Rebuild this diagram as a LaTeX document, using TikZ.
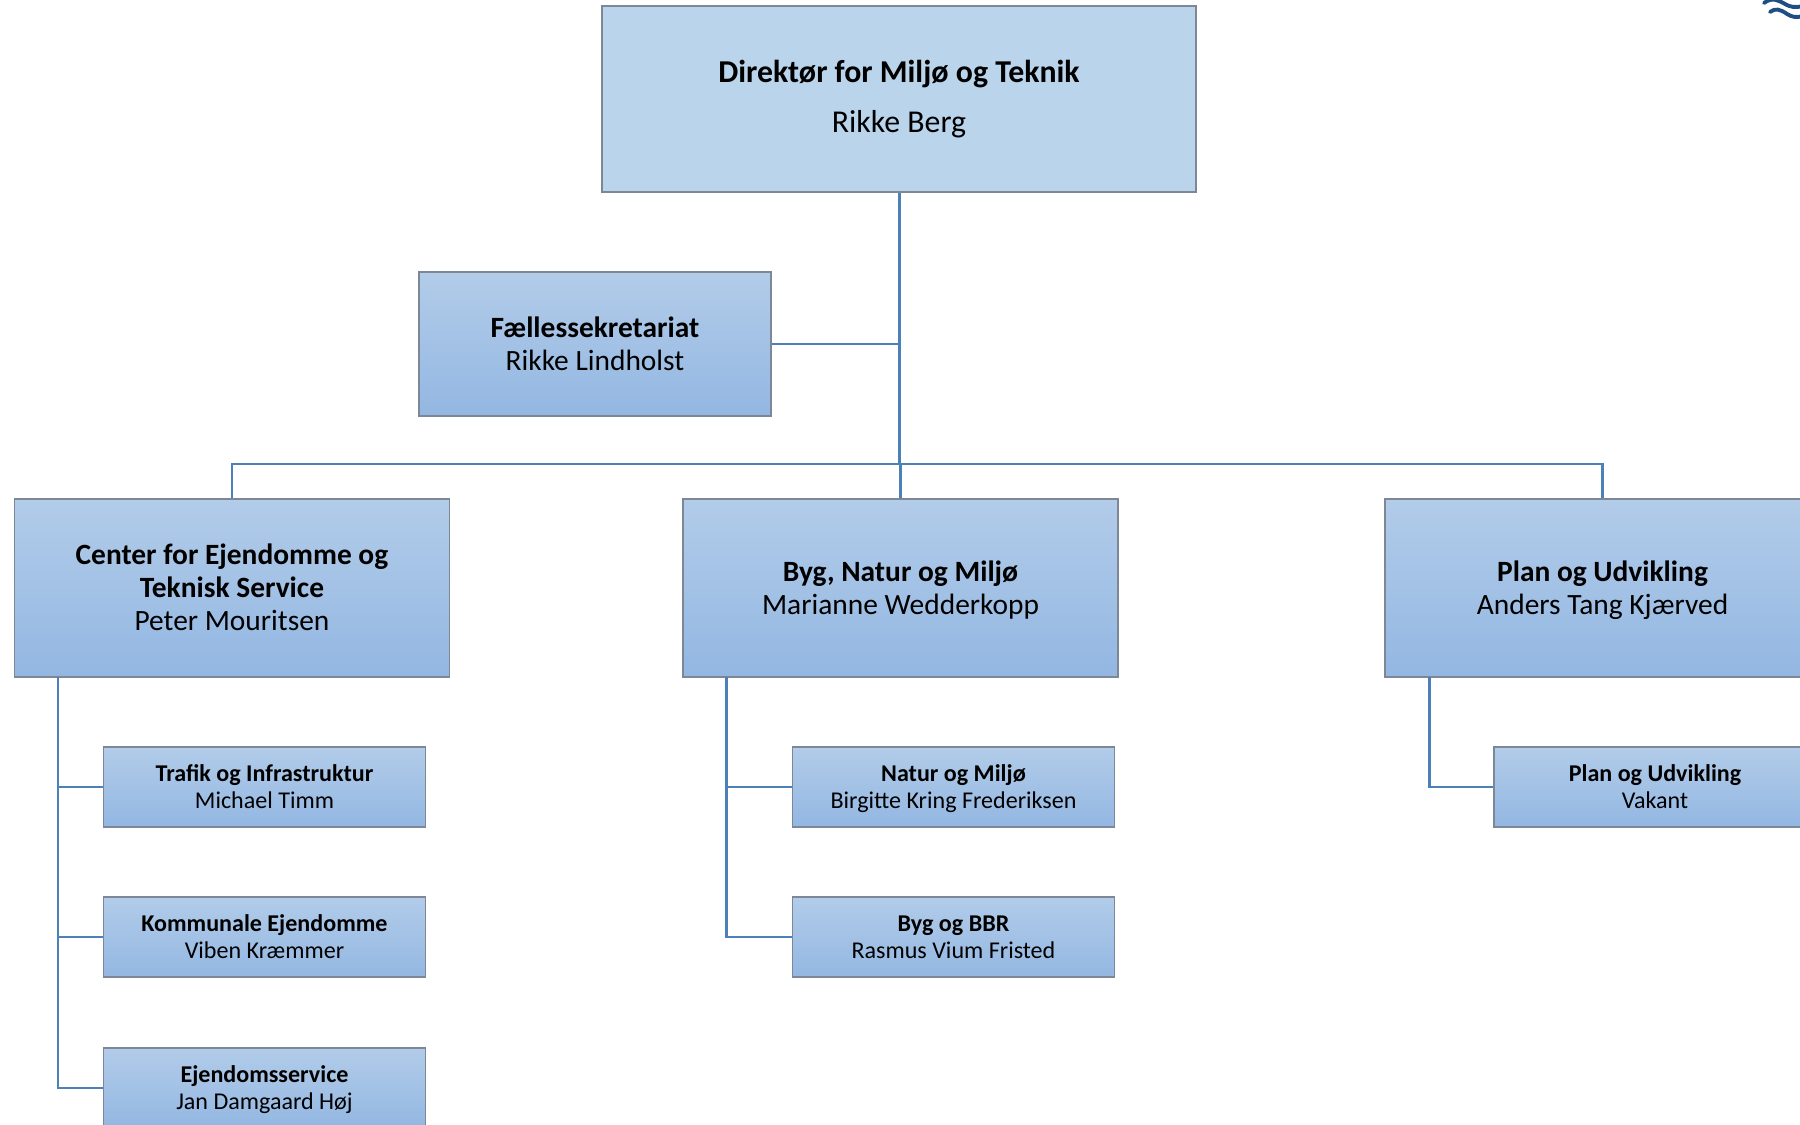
\documentclass[tikz,border=0pt]{standalone}
\usepackage{fontspec}
\setmainfont{Carlito}
\usepackage{tikz}
\definecolor{linkblue}{HTML}{4C80B8}
\definecolor{boxedge}{HTML}{7D8795}
\definecolor{boxtop}{HTML}{B2CCE9}
\definecolor{boxbottom}{HTML}{93B7E2}
\definecolor{dirfill}{HTML}{BAD4EC}
\definecolor{logoblue}{HTML}{1F4E85}
\newcommand{\orgtop}{\rule{0pt}{\dimexpr0.75em+2.6pt\relax}}
\newcommand{\orgbot}{\rule[-0.25em]{0pt}{0.25em}}
\newcommand{\orgtext}[2]{\orgtop\textbf{#1}\\#2\orgbot}
\tikzset{
  box/.style={draw=boxedge, line width=0.7pt, rectangle, align=center, inner sep=0pt,
    top color=boxtop, bottom color=boxbottom, text=black},
  bigbox/.style={box, minimum width=435*0.02cm, minimum height=178*0.02cm, font=\fontsize{16.75}{18.7}\selectfont},
  smallbox/.style={box, minimum width=322*0.02cm, minimum height=80*0.02cm, font=\fontsize{13.7}{15.4}\selectfont},
  link/.style={draw=linkblue, line width=1.7pt}
}
\begin{document}
\begin{tikzpicture}[x=0.02cm,y=-0.02cm]
   \useasboundingbox (0,0) rectangle (1800,1125);
   \clip (0,0) rectangle (1800,1125);
   % Connectors
   \coordinate (hub) at (899,464);
   \coordinate (ejdfoot) at (58,677);
   \coordinate (bygfoot) at (726.5,677);
   \coordinate (planfoot) at (1429,677);
   % Top boxes
   \node[box, top color=dirfill, bottom color=dirfill, minimum width=594*0.02cm, minimum height=186*0.02cm, font=\fontsize{18.1}{28}\selectfont] (dir) at (899,99) {\orgtop\textbf{Direktør for Miljø og Teknik}\\Rikke Berg\rule[-0.36em]{0pt}{0.36em}};
   \node[box, minimum width=352*0.02cm, minimum height=144*0.02cm, font=\fontsize{16.75}{18.7}\selectfont] (sek) at (595,344) {\orgtext{Fællessekretariat}{Rikke Lindholst}};
   % Centers
   \node[bigbox] (ejd) at (232,588) {\orgtop\textbf{Center for Ejendomme og}\\\textbf{Teknisk Service}\\Peter Mouritsen\orgbot};
   \node[bigbox] (byg) at (900.5,588) {\orgtext{Byg, Natur og Miljø}{Marianne Wedderkopp}};
   \node[bigbox] (plan) at (1602.5,588) {\orgtext{Plan og Udvikling}{Anders Tang Kjærved}};
   % Sub boxes
   \node[smallbox] (traf) at (264.5,787) {\orgtext{Trafik og Infrastruktur}{Michael Timm}};
   \node[smallbox] (komm) at (264.5,937) {\orgtext{Kommunale Ejendomme}{Viben Kræmmer}};
   \node[smallbox] (serv) at (264.5,1088) {\orgtext{Ejendomsservice}{Jan Damgaard Høj}};
   \node[smallbox] (natur) at (953.5,787) {\orgtext{Natur og Miljø}{Birgitte Kring Frederiksen}};
   \node[smallbox] (bbr) at (953.5,937) {\orgtext{Byg og BBR}{Rasmus Vium Fristed}};
   \node[smallbox] (plansub) at (1655,787) {\orgtext{Plan og Udvikling}{Vakant}};
   \draw[link] (dir.south) -- (hub);
   \draw[link] (sek.east) -- (sek.east -| hub);
   \draw[link] (ejd.north) |- (hub);
   \draw[link] (plan.north) |- (hub);
   \draw[link] (byg.north) -- (byg.north |- hub);
   \draw[link] (ejdfoot) |- (traf.west);
   \draw[link] (ejdfoot) |- (komm.west);
   \draw[link] (ejdfoot) |- (serv.west);
   \draw[link] (bygfoot) |- (natur.west);
   \draw[link] (bygfoot) |- (bbr.west);
   \draw[link] (planfoot) |- (plansub.west);
   % Logo corner
   \draw[line width=2.2pt, color=logoblue, line cap=round] (1764,3) .. controls (1772,-3) and (1778,0) .. (1785,4) .. controls (1790,7) and (1795,8) .. (1803,6);
   \draw[line width=2.2pt, color=logoblue, line cap=round] (1770,12) .. controls (1775,8) and (1780,9) .. (1787,14) .. controls (1792,17) and (1796,18) .. (1803,16);
\end{tikzpicture}
\end{document}
